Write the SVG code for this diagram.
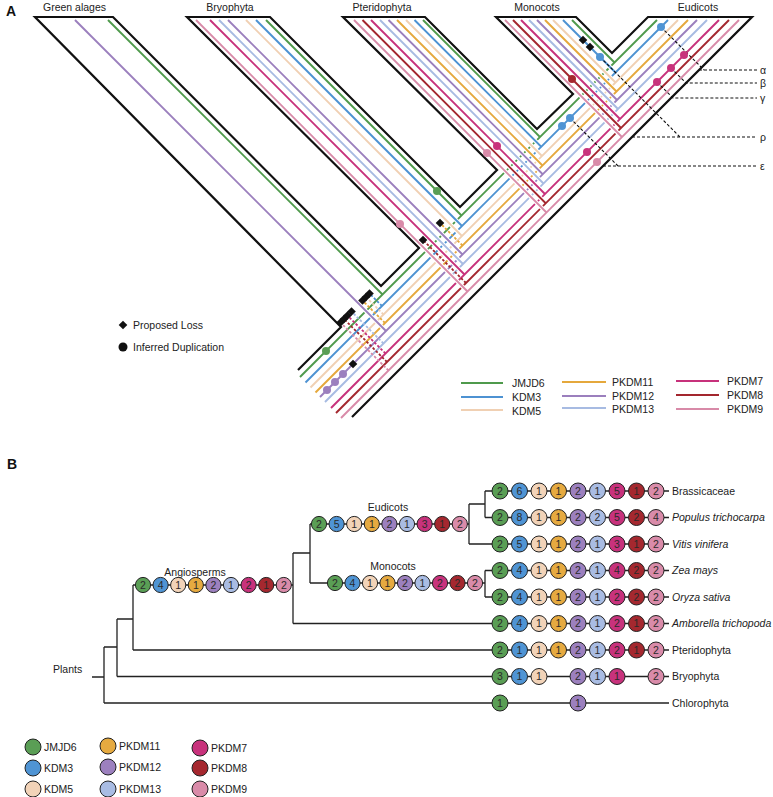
<svg xmlns="http://www.w3.org/2000/svg" width="773" height="797" viewBox="0 0 773 797">
<style>
text{font-family:"Liberation Sans",Arial,sans-serif;fill:#222;font-size:10.5px}
.hd{font-weight:bold;font-size:14px;fill:#111}
.mid{text-anchor:middle}
.n{text-anchor:middle;fill:#2a2a2a;font-size:10.5px}
.i{font-style:italic}
.ln{fill:none;stroke-width:1.9}
.h{fill:none;stroke:#fff;stroke-width:4.2}
.ol{fill:none;stroke:#111;stroke-width:2.2;stroke-linejoin:miter}
.ds{fill:none;stroke-width:1.8;stroke-dasharray:2.6 1.8}
.lbl{fill:none;stroke:#111;stroke-width:1.1;stroke-dasharray:3 2}
.tr{fill:none;stroke:#222;stroke-width:1.3}
.bc{stroke:#222;stroke-width:1}
.G{stroke:#4f9a4c}.B{stroke:#4d92d2}.K{stroke:#f0d0b3}.O{stroke:#e5a83c}.P{stroke:#9b7fbd}.L{stroke:#a7bbe2}.M{stroke:#c7317b}.R{stroke:#a3262e}.K9{stroke:#d88aa8}
.fG{fill:#5a9e55}.fB{fill:#4f94d4}.fK{fill:#f2d3b8}.fO{fill:#e6aa40}.fP{fill:#9c80be}.fL{fill:#a9bce3}.fM{fill:#c8327c}.fR{fill:#a5282f}.fK9{fill:#d98ba9}
.dia{fill:#111}
</style>
<defs>
<path id="dm" d="M0,-4.3 L4.3,0 L0,4.3 L-4.3,0Z"/>
</defs>

<text class="hd" x="6" y="16">A</text>
<text class="hd" x="7" y="469">B</text>

<!-- Panel A labels -->
<g id="taxa-labels">
<text class="mid" x="74.5" y="11">Green alages</text>
<text class="mid" x="230" y="11">Bryophyta</text>
<text class="mid" x="382" y="11">Pteridophyta</text>
<text class="mid" x="537" y="11">Monocots</text>
<text class="mid" x="698" y="11">Eudicots</text>
</g>

<g id="connectors">
<!-- trunk gene lines -->
<g id="trunk-lines">
<path class="ln G" d="M300,377 L657,20"/>
<path class="ln B" d="M305.5,382.5 L668,20"/>
<path class="ln K" d="M310.5,387.5 L678,20"/>
<path class="ln O" d="M315.5,392.5 L688,20"/>
<path class="ln P" d="M320,397 L697,20"/>
<path class="ln L" d="M325,402 L707,20"/>
<path class="ln M" d="M331,408 L719,20"/>
<path class="ln R" d="M336,413 L729,20"/>
<path class="ln K9" d="M341,418 L739,20"/>
</g>
<!-- Green algae branch -->
<g id="green-algae-lines">
<path class="h" d="M384.4,329.4 L75,20"/><path class="ln P" d="M386,331 L75,20"/>
<path class="h" d="M380.9,292.9 L108,20"/><path class="ln G" d="M382.5,294.5 L108,20"/>
</g>
<!-- Bryophyta branch -->
<g id="bryophyta-lines">
<path class="h" d="M465.9,289.9 L196,20"/><path class="ln K9" d="M467.5,291.5 L196,20"/>
<path class="h" d="M462.9,272.9 L210,20"/><path class="ln M" d="M464.5,274.5 L210,20"/>
<path class="h" d="M461.4,262.4 L219,20"/><path class="ln L" d="M463,264 L219,20"/>
<path class="h" d="M460.9,252.9 L228,20"/><path class="ln P" d="M462.5,254.5 L228,20"/>
<path class="h" d="M460.4,234.4 L246,20"/><path class="ln K" d="M462,236 L246,20"/>
<path class="h" d="M460.4,224.4 L256,20"/><path class="ln B" d="M462,226 L256,20"/>
<path class="h" d="M459.9,213.9 L266,20"/><path class="ln G" d="M461.5,215.5 L266,20"/>
</g>
<!-- Pteridophyta branch -->
<g id="pteridophyta-lines">
<path class="h" d="M544.9,210.9 L354,20"/><path class="ln K9" d="M546.5,212.5 L354,20"/>
<path class="h" d="M544.15,201.65 L362.5,20"/><path class="ln R" d="M545.75,203.25 L362.5,20"/>
<path class="h" d="M543.4,192.4 L371,20"/><path class="ln M" d="M545,194 L371,20"/>
<path class="h" d="M541.9,181.9 L380,20"/><path class="ln L" d="M543.5,183.5 L380,20"/>
<path class="h" d="M541.15,172.65 L388.5,20"/><path class="ln P" d="M542.75,174.25 L388.5,20"/>
<path class="h" d="M540.9,163.9 L397,20"/><path class="ln O" d="M542.5,165.5 L397,20"/>
<path class="h" d="M540.4,154.4 L406,20"/><path class="ln K" d="M542,156 L406,20"/>
<path class="h" d="M539.65,145.15 L414.5,20"/><path class="ln B" d="M541.25,146.75 L414.5,20"/>
<path class="h" d="M538.4,135.4 L423,20"/><path class="ln G" d="M540,137 L423,20"/>
</g>
<!-- Monocots branch -->
<g id="monocots-lines">
<path class="h" d="M620.4,135.4 L505,20"/><path class="ln K9" d="M622,137 L505,20"/>
<path class="h" d="M619.4,126.4 L513,20"/><path class="ln R" d="M621,128 L513,20"/>
<path class="h" d="M618.4,117.4 L521,20"/><path class="ln M" d="M620,119 L521,20"/>
<path class="h" d="M616.4,107.4 L529,20"/><path class="ln L" d="M618,109 L529,20"/>
<path class="h" d="M615.4,98.4 L537,20"/><path class="ln P" d="M617,100 L537,20"/>
<path class="h" d="M614.9,89.9 L545,20"/><path class="ln O" d="M616.5,91.5 L545,20"/>
<path class="h" d="M613.9,80.9 L553,20"/><path class="ln K" d="M615.5,82.5 L553,20"/>
<path class="h" d="M613.9,70.9 L563,20"/><path class="ln B" d="M615.5,72.5 L563,20"/>
<path class="h" d="M612.9,60.9 L572,20"/><path class="ln G" d="M614.5,62.5 L572,20"/>
</g>
<!-- lost lineages (dashed) -->
<g id="lost-lines">
<path class="ds K9" d="M388.5,370.5 L340.5,322.5"/>
<path class="ds R" d="M387,362 L344,319"/>
<path class="ds M" d="M385.5,353.5 L347.5,315.5"/>
<path class="ds L" d="M383.5,343.5 L351.5,311.5"/>
<path class="ds O" d="M385,323 L362.5,300.5"/>
<path class="ds K" d="M383.5,314.5 L366,297"/>
<path class="ds B" d="M382,306 L369.5,293.5"/>
<path class="ds R" d="M466,283 L423,240"/>
<path class="ds O" d="M462.5,245.5 L440,223"/>
</g>
<!-- event label leaders -->
<g id="event-leaders">
<path class="lbl" d="M661,27 L704,70 M699,70 L757,70"/>
<path class="lbl" d="M671,68 L686,83 L757,83"/>
<path class="lbl" d="M657,82 L673,98 L757,98"/>
<path class="lbl" d="M600,57 L680,137 M632,137 L757,137"/>
<path class="lbl" d="M570,118 L618,166 M603,166 L757,166"/>
</g>
</g>

<!-- species tree outline -->
<g id="species-tree">
<path class="ol" d="M298,370 L341,327 L35,17 L113,17 L381,286 L419,248 L187,17 L270,17 L460,207 L497,170 L343,17 L425,17 L537,129 L573,94 L496,17 L576,17 L612,53 L648,17 L752,17 L352,417"/>
</g>

<!-- duplications and losses -->
<g id="events">
<circle class="fK9" cx="400" cy="224" r="4"/>
<circle class="fG" cx="437" cy="191" r="4"/>
<circle class="fM" cx="497" cy="146" r="4"/>
<circle class="fK9" cx="487" cy="153" r="4"/>
<circle class="fR" cx="572" cy="79" r="4"/>
<circle class="fB" cx="600" cy="57" r="4"/>
<circle class="fB" cx="661" cy="27" r="4"/>
<circle class="fM" cx="684" cy="55" r="4"/>
<circle class="fM" cx="671" cy="68" r="4"/>
<circle class="fM" cx="657" cy="82" r="4"/>
<circle class="fB" cx="562" cy="126" r="4"/>
<circle class="fB" cx="570" cy="118" r="4"/>
<circle class="fM" cx="587" cy="152" r="4"/>
<circle class="fK9" cx="597" cy="162" r="4"/>
<circle class="fG" cx="326" cy="351" r="4"/>
<circle class="fP" cx="327" cy="390" r="4"/>
<circle class="fP" cx="335" cy="382" r="4"/>
<circle class="fP" cx="343" cy="374" r="4"/>
<use href="#dm" class="dia" x="353" y="364"/>
<use href="#dm" class="dia" x="583" y="40"/>
<use href="#dm" class="dia" x="590" y="47"/>
<use href="#dm" class="dia" x="423" y="240"/>
<use href="#dm" class="dia" x="440" y="223"/>
<use href="#dm" class="dia" x="340.5" y="322.5"/>
<use href="#dm" class="dia" x="344" y="319"/>
<use href="#dm" class="dia" x="347.5" y="315.5"/>
<use href="#dm" class="dia" x="351.5" y="311.5"/>
<use href="#dm" class="dia" x="362.5" y="300.5"/>
<use href="#dm" class="dia" x="366" y="297"/>
<use href="#dm" class="dia" x="369.5" y="293.5"/>
</g>

<g id="event-labels">
<text x="760" y="74">α</text>
<text x="760" y="87">β</text>
<text x="760" y="102">γ</text>
<text x="760" y="141">ρ</text>
<text x="760" y="170">ε</text>
</g>

<g id="legend-a-symbols">
<use href="#dm" class="dia" x="123" y="325"/>
<text x="133" y="329">Proposed Loss</text>
<circle cx="123" cy="347" r="4.5" fill="#111"/>
<text x="133" y="351">Inferred Duplication</text>
</g>

<g id="legend-a-lines">
<path class="ln G" d="M461,383 H503"/><text x="512" y="387">JMJD6</text>
<path class="ln B" d="M461,397 H503"/><text x="512" y="401">KDM3</text>
<path class="ln K" d="M461,410 H503"/><text x="512" y="415">KDM5</text>
<path class="ln O" d="M562,382 H606"/><text x="612" y="386">PKDM11</text>
<path class="ln P" d="M562,396 H606"/><text x="612" y="400">PKDM12</text>
<path class="ln L" d="M562,408 H606"/><text x="612" y="413">PKDM13</text>
<path class="ln M" d="M676,381 H719"/><text x="727" y="385">PKDM7</text>
<path class="ln R" d="M676,395 H719"/><text x="727" y="399">PKDM8</text>
<path class="ln K9" d="M676,409 H719"/><text x="727" y="413">PKDM9</text>
</g>

<!-- Panel B tree -->
<g id="tree-b">
<path class="tr" d="M92,677 H104 M104,647 V703 M104,703 H669 M104,647 H117 M117,619 V676.5 M117,676.5 H669 M117,619 H133 M133,585 V650 M133,650 H669 M133,585 H293 M293,553 V623.5 M293,623.5 H669 M293,553 H310 M310,524 V583 M310,524 H469 M310,583 H485 M469,504 V544 M469,544 H669 M469,504 H485 M485,491 V517.5 M485,491 H669 M485,517.5 H669 M485,570.5 V597 M485,570.5 H669 M485,597 H669"/>
<text x="53" y="673">Plants</text>
</g>

<g id="angiosperms">
<text class="mid" x="195" y="576">Angiosperms</text>
<circle class="bc fG" cx="143" cy="585" r="7.6"/><text class="n" x="143" y="588.8">2</text>
<circle class="bc fB" cx="160.6" cy="585" r="7.6"/><text class="n" x="160.6" y="588.8">4</text>
<circle class="bc fK" cx="178.2" cy="585" r="7.6"/><text class="n" x="178.2" y="588.8">1</text>
<circle class="bc fO" cx="195.8" cy="585" r="7.6"/><text class="n" x="195.8" y="588.8">1</text>
<circle class="bc fP" cx="213.4" cy="585" r="7.6"/><text class="n" x="213.4" y="588.8">2</text>
<circle class="bc fL" cx="231" cy="585" r="7.6"/><text class="n" x="231" y="588.8">1</text>
<circle class="bc fM" cx="248.6" cy="585" r="7.6"/><text class="n" x="248.6" y="588.8">2</text>
<circle class="bc fR" cx="266.2" cy="585" r="7.6"/><text class="n" x="266.2" y="588.8">1</text>
<circle class="bc fK9" cx="283.8" cy="585" r="7.6"/><text class="n" x="283.8" y="588.8">2</text>
</g>

<g id="eudicots">
<text class="mid" x="388" y="511">Eudicots</text>
<circle class="bc fG" cx="319" cy="524" r="7.6"/><text class="n" x="319" y="527.8">2</text>
<circle class="bc fB" cx="336.6" cy="524" r="7.6"/><text class="n" x="336.6" y="527.8">5</text>
<circle class="bc fK" cx="354.2" cy="524" r="7.6"/><text class="n" x="354.2" y="527.8">1</text>
<circle class="bc fO" cx="371.8" cy="524" r="7.6"/><text class="n" x="371.8" y="527.8">1</text>
<circle class="bc fP" cx="389.4" cy="524" r="7.6"/><text class="n" x="389.4" y="527.8">2</text>
<circle class="bc fL" cx="407" cy="524" r="7.6"/><text class="n" x="407" y="527.8">1</text>
<circle class="bc fM" cx="424.6" cy="524" r="7.6"/><text class="n" x="424.6" y="527.8">3</text>
<circle class="bc fR" cx="442.2" cy="524" r="7.6"/><text class="n" x="442.2" y="527.8">1</text>
<circle class="bc fK9" cx="459.8" cy="524" r="7.6"/><text class="n" x="459.8" y="527.8">2</text>
</g>

<g id="monocots">
<text class="mid" x="393" y="570">Monocots</text>
<circle class="bc fG" cx="335" cy="583" r="7.6"/><text class="n" x="335" y="586.8">2</text>
<circle class="bc fB" cx="352.5" cy="583" r="7.6"/><text class="n" x="352.5" y="586.8">4</text>
<circle class="bc fK" cx="370" cy="583" r="7.6"/><text class="n" x="370" y="586.8">1</text>
<circle class="bc fO" cx="387.5" cy="583" r="7.6"/><text class="n" x="387.5" y="586.8">1</text>
<circle class="bc fP" cx="405" cy="583" r="7.6"/><text class="n" x="405" y="586.8">2</text>
<circle class="bc fL" cx="422.5" cy="583" r="7.6"/><text class="n" x="422.5" y="586.8">1</text>
<circle class="bc fM" cx="440" cy="583" r="7.6"/><text class="n" x="440" y="586.8">2</text>
<circle class="bc fR" cx="457.5" cy="583" r="7.6"/><text class="n" x="457.5" y="586.8">2</text>
<circle class="bc fK9" cx="475" cy="583" r="7.6"/><text class="n" x="475" y="586.8">2</text>
</g>

<g id="brassicaceae">
<circle class="bc fG" cx="500" cy="491" r="8"/><text class="n" x="500" y="494.8">2</text>
<circle class="bc fB" cx="519.5" cy="491" r="8"/><text class="n" x="519.5" y="494.8">6</text>
<circle class="bc fK" cx="539" cy="491" r="8"/><text class="n" x="539" y="494.8">1</text>
<circle class="bc fO" cx="558.5" cy="491" r="8"/><text class="n" x="558.5" y="494.8">1</text>
<circle class="bc fP" cx="578" cy="491" r="8"/><text class="n" x="578" y="494.8">2</text>
<circle class="bc fL" cx="597.5" cy="491" r="8"/><text class="n" x="597.5" y="494.8">1</text>
<circle class="bc fM" cx="617" cy="491" r="8"/><text class="n" x="617" y="494.8">5</text>
<circle class="bc fR" cx="636.5" cy="491" r="8"/><text class="n" x="636.5" y="494.8">1</text>
<circle class="bc fK9" cx="656" cy="491" r="8"/><text class="n" x="656" y="494.8">2</text>
<text x="672" y="494.8">Brassicaceae</text>
</g>

<g id="populus">
<circle class="bc fG" cx="500" cy="517.5" r="8"/><text class="n" x="500" y="521.3">2</text>
<circle class="bc fB" cx="519.5" cy="517.5" r="8"/><text class="n" x="519.5" y="521.3">8</text>
<circle class="bc fK" cx="539" cy="517.5" r="8"/><text class="n" x="539" y="521.3">1</text>
<circle class="bc fO" cx="558.5" cy="517.5" r="8"/><text class="n" x="558.5" y="521.3">1</text>
<circle class="bc fP" cx="578" cy="517.5" r="8"/><text class="n" x="578" y="521.3">2</text>
<circle class="bc fL" cx="597.5" cy="517.5" r="8"/><text class="n" x="597.5" y="521.3">2</text>
<circle class="bc fM" cx="617" cy="517.5" r="8"/><text class="n" x="617" y="521.3">5</text>
<circle class="bc fR" cx="636.5" cy="517.5" r="8"/><text class="n" x="636.5" y="521.3">2</text>
<circle class="bc fK9" cx="656" cy="517.5" r="8"/><text class="n" x="656" y="521.3">4</text>
<text class="i" x="672" y="521.3">Populus trichocarpa</text>
</g>

<g id="vitis">
<circle class="bc fG" cx="500" cy="544" r="8"/><text class="n" x="500" y="547.8">2</text>
<circle class="bc fB" cx="519.5" cy="544" r="8"/><text class="n" x="519.5" y="547.8">5</text>
<circle class="bc fK" cx="539" cy="544" r="8"/><text class="n" x="539" y="547.8">1</text>
<circle class="bc fO" cx="558.5" cy="544" r="8"/><text class="n" x="558.5" y="547.8">1</text>
<circle class="bc fP" cx="578" cy="544" r="8"/><text class="n" x="578" y="547.8">2</text>
<circle class="bc fL" cx="597.5" cy="544" r="8"/><text class="n" x="597.5" y="547.8">1</text>
<circle class="bc fM" cx="617" cy="544" r="8"/><text class="n" x="617" y="547.8">3</text>
<circle class="bc fR" cx="636.5" cy="544" r="8"/><text class="n" x="636.5" y="547.8">1</text>
<circle class="bc fK9" cx="656" cy="544" r="8"/><text class="n" x="656" y="547.8">2</text>
<text class="i" x="672" y="547.8">Vitis vinifera</text>
</g>

<g id="zea">
<circle class="bc fG" cx="500" cy="570.5" r="8"/><text class="n" x="500" y="574.3">2</text>
<circle class="bc fB" cx="519.5" cy="570.5" r="8"/><text class="n" x="519.5" y="574.3">4</text>
<circle class="bc fK" cx="539" cy="570.5" r="8"/><text class="n" x="539" y="574.3">1</text>
<circle class="bc fO" cx="558.5" cy="570.5" r="8"/><text class="n" x="558.5" y="574.3">1</text>
<circle class="bc fP" cx="578" cy="570.5" r="8"/><text class="n" x="578" y="574.3">2</text>
<circle class="bc fL" cx="597.5" cy="570.5" r="8"/><text class="n" x="597.5" y="574.3">1</text>
<circle class="bc fM" cx="617" cy="570.5" r="8"/><text class="n" x="617" y="574.3">4</text>
<circle class="bc fR" cx="636.5" cy="570.5" r="8"/><text class="n" x="636.5" y="574.3">2</text>
<circle class="bc fK9" cx="656" cy="570.5" r="8"/><text class="n" x="656" y="574.3">2</text>
<text class="i" x="672" y="574.3">Zea mays</text>
</g>

<g id="oryza">
<circle class="bc fG" cx="500" cy="597" r="8"/><text class="n" x="500" y="600.8">2</text>
<circle class="bc fB" cx="519.5" cy="597" r="8"/><text class="n" x="519.5" y="600.8">4</text>
<circle class="bc fK" cx="539" cy="597" r="8"/><text class="n" x="539" y="600.8">1</text>
<circle class="bc fO" cx="558.5" cy="597" r="8"/><text class="n" x="558.5" y="600.8">1</text>
<circle class="bc fP" cx="578" cy="597" r="8"/><text class="n" x="578" y="600.8">2</text>
<circle class="bc fL" cx="597.5" cy="597" r="8"/><text class="n" x="597.5" y="600.8">1</text>
<circle class="bc fM" cx="617" cy="597" r="8"/><text class="n" x="617" y="600.8">2</text>
<circle class="bc fR" cx="636.5" cy="597" r="8"/><text class="n" x="636.5" y="600.8">2</text>
<circle class="bc fK9" cx="656" cy="597" r="8"/><text class="n" x="656" y="600.8">2</text>
<text class="i" x="672" y="600.8">Oryza sativa</text>
</g>

<g id="amborella">
<circle class="bc fG" cx="500" cy="623.5" r="8"/><text class="n" x="500" y="627.3">2</text>
<circle class="bc fB" cx="519.5" cy="623.5" r="8"/><text class="n" x="519.5" y="627.3">4</text>
<circle class="bc fK" cx="539" cy="623.5" r="8"/><text class="n" x="539" y="627.3">1</text>
<circle class="bc fO" cx="558.5" cy="623.5" r="8"/><text class="n" x="558.5" y="627.3">1</text>
<circle class="bc fP" cx="578" cy="623.5" r="8"/><text class="n" x="578" y="627.3">2</text>
<circle class="bc fL" cx="597.5" cy="623.5" r="8"/><text class="n" x="597.5" y="627.3">1</text>
<circle class="bc fM" cx="617" cy="623.5" r="8"/><text class="n" x="617" y="627.3">2</text>
<circle class="bc fR" cx="636.5" cy="623.5" r="8"/><text class="n" x="636.5" y="627.3">1</text>
<circle class="bc fK9" cx="656" cy="623.5" r="8"/><text class="n" x="656" y="627.3">2</text>
<text class="i" x="672" y="627.3">Amborella trichopoda</text>
</g>

<g id="pteridophyta">
<circle class="bc fG" cx="500" cy="650" r="8"/><text class="n" x="500" y="653.8">2</text>
<circle class="bc fB" cx="519.5" cy="650" r="8"/><text class="n" x="519.5" y="653.8">1</text>
<circle class="bc fK" cx="539" cy="650" r="8"/><text class="n" x="539" y="653.8">1</text>
<circle class="bc fO" cx="558.5" cy="650" r="8"/><text class="n" x="558.5" y="653.8">1</text>
<circle class="bc fP" cx="578" cy="650" r="8"/><text class="n" x="578" y="653.8">2</text>
<circle class="bc fL" cx="597.5" cy="650" r="8"/><text class="n" x="597.5" y="653.8">1</text>
<circle class="bc fM" cx="617" cy="650" r="8"/><text class="n" x="617" y="653.8">2</text>
<circle class="bc fR" cx="636.5" cy="650" r="8"/><text class="n" x="636.5" y="653.8">1</text>
<circle class="bc fK9" cx="656" cy="650" r="8"/><text class="n" x="656" y="653.8">2</text>
<text x="672" y="653.8">Pteridophyta</text>
</g>

<g id="bryophyta">
<circle class="bc fG" cx="500" cy="676.5" r="8"/><text class="n" x="500" y="680.3">3</text>
<circle class="bc fB" cx="519.5" cy="676.5" r="8"/><text class="n" x="519.5" y="680.3">1</text>
<circle class="bc fK" cx="539" cy="676.5" r="8"/><text class="n" x="539" y="680.3">1</text>
<circle class="bc fP" cx="578" cy="676.5" r="8"/><text class="n" x="578" y="680.3">2</text>
<circle class="bc fL" cx="597.5" cy="676.5" r="8"/><text class="n" x="597.5" y="680.3">1</text>
<circle class="bc fM" cx="617" cy="676.5" r="8"/><text class="n" x="617" y="680.3">1</text>
<circle class="bc fK9" cx="656" cy="676.5" r="8"/><text class="n" x="656" y="680.3">2</text>
<text x="672" y="680.3">Bryophyta</text>
</g>

<g id="chlorophyta">
<circle class="bc fG" cx="500" cy="703" r="8"/><text class="n" x="500" y="706.8">1</text>
<circle class="bc fP" cx="578" cy="703" r="8"/><text class="n" x="578" y="706.8">1</text>
<text x="672" y="706.8">Chlorophyta</text>
</g>

<g id="legend-b">
<circle class="bc fG" cx="33" cy="747" r="8"/><text x="44" y="751">JMJD6</text>
<circle class="bc fB" cx="33" cy="768" r="8"/><text x="44" y="772">KDM3</text>
<circle class="bc fK" cx="33" cy="789" r="8"/><text x="44" y="793">KDM5</text>
<circle class="bc fO" cx="108" cy="746" r="8"/><text x="119" y="750">PKDM11</text>
<circle class="bc fP" cx="108" cy="767" r="8"/><text x="119" y="771">PKDM12</text>
<circle class="bc fL" cx="108" cy="789" r="8"/><text x="119" y="793">PKDM13</text>
<circle class="bc fM" cx="200" cy="748" r="8"/><text x="211" y="752">PKDM7</text>
<circle class="bc fR" cx="200" cy="768" r="8"/><text x="211" y="772">PKDM8</text>
<circle class="bc fK9" cx="200" cy="789" r="8"/><text x="211" y="793">PKDM9</text>
</g>
</svg>
